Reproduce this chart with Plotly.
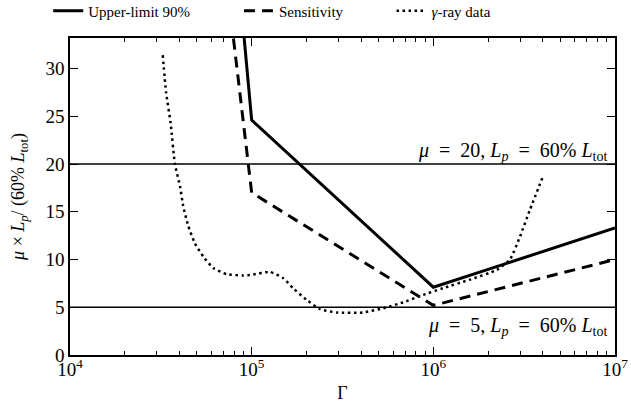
import plotly.graph_objects as go

# ---- data ----
upper_gamma = [8.9e4, 1.0e5, 1.0e6, 1.0e7]
upper_vals = [35.1, 24.6, 7.1, 13.3]

sens_gamma = [7.73e4, 1.0e5, 1.0e6, 1.0e7]
sens_vals = [35.0, 17.0, 5.2, 10.0]

gray_gamma = [3.24e4, 3.38e4, 3.58e4, 3.78e4, 4.03e4, 4.2e4, 4.48e4, 4.87e4,
              5.42e4, 6.15e4, 7.28e4, 9.0e4, 1.0e5, 1.26e5, 1.49e5, 1.69e5,
              2.0e5, 2.38e5, 2.94e5, 4.1e5, 5.3e5, 6.8e5, 8.8e5, 1.13e6,
              1.59e6, 2.23e6, 2.64e6, 3.0e6, 3.4e6, 4.05e6]
gray_vals = [31.4, 27.5, 24.3, 20.0, 17.7, 15.6, 13.5, 11.7,
             10.3, 9.1, 8.47, 8.32, 8.4, 8.7, 8.05, 7.0,
             5.8, 4.8, 4.45, 4.45, 4.9, 5.5, 6.3, 7.0,
             7.9, 8.9, 10.0, 12.4, 15.2, 18.9]

hlines = [20, 5]
gamma_range = [1e4, 1e7]
x_tickvals = [1e4, 1e5, 1e6, 1e7]
x_ticktext = ["10<sup>4</sup>", "10<sup>5</sup>", "10<sup>6</sup>", "10<sup>7</sup>"]
y_tickvals = [0, 5, 10, 15, 20, 25, 30]
minor_vals = [m * 10 ** e for e in (4, 5, 6) for m in range(2, 10)]

FONT = "'Liberation Serif', 'DejaVu Serif', serif"
SP = "\u2002"

fig = go.Figure()

for yv in hlines:
    fig.add_trace(go.Scatter(x=gamma_range, y=[yv, yv], mode="lines",
                             line=dict(color="black", width=1.5),
                             showlegend=False, hoverinfo="skip"))

fig.add_trace(go.Scatter(x=upper_gamma, y=upper_vals, mode="lines",
                         name="Upper-limit 90%", legend="legend",
                         line=dict(color="black", width=3)))
fig.add_trace(go.Scatter(x=sens_gamma, y=sens_vals, mode="lines",
                         name="Sensitivity", legend="legend2",
                         line=dict(color="black", width=3, dash="11px,7px")))
fig.add_trace(go.Scatter(x=gray_gamma, y=gray_vals, mode="lines",
                         name="<i>γ</i>-ray data", legend="legend3",
                         line=dict(color="black", width=2.5, dash="2.5px,3.5px",
                                   shape="spline", smoothing=0.5)))

leg_common = dict(orientation="h", yanchor="middle", y=1.085, xanchor="left",
                  bgcolor="rgba(0,0,0,0)", font=dict(family=FONT, size=15, color="black"),
                  itemwidth=30)
fig.update_layout(
    legend=dict(x=-0.04, **leg_common),
    legend2=dict(x=0.31, **leg_common),
    legend3=dict(x=0.59, **leg_common),
)

lab20 = f"<i>μ</i>{SP}={SP}20, <i>L</i><sub><i>p</i></sub>{SP}={SP}60% <i>L</i><sub>tot</sub>"
lab5 = f"<i>μ</i>{SP}={SP}5, <i>L</i><sub><i>p</i></sub>{SP}={SP}60% <i>L</i><sub>tot</sub>"
fig.add_annotation(x=1, xref="paper", y=hlines[0], yref="y", yanchor="bottom",
                   xanchor="right", showarrow=False, yshift=-2, xshift=-6,
                   text=lab20, font=dict(family=FONT, size=20, color="black"))
fig.add_annotation(x=1, xref="paper", y=hlines[1], yref="y", yanchor="top",
                   xanchor="right", showarrow=False, yshift=-5, xshift=-6,
                   text=lab5, font=dict(family=FONT, size=20, color="black"))

fig.update_xaxes(type="log", range=[4, 7], tickvals=x_tickvals, ticktext=x_ticktext,
                 ticks="inside", ticklen=8, tickwidth=1.2, tickcolor="black",
                 showline=True, linecolor="black", linewidth=1.5, mirror="allticks",
                 showgrid=False, zeroline=False, ticklabelstandoff=-4,
                 minor=dict(tickvals=minor_vals, ticks="inside", ticklen=4,
                            tickcolor="black", tickwidth=1, showgrid=False),
                 tickfont=dict(family=FONT, size=19, color="black"),
                 title=dict(text="Γ", font=dict(family=FONT, size=18, color="black"),
                            standoff=8))
fig.update_yaxes(range=[0, 33.2], tickvals=y_tickvals,
                 ticks="inside", ticklen=8, tickwidth=1.2, tickcolor="black",
                 showline=True, linecolor="black", linewidth=1.5, mirror="allticks",
                 showgrid=False, zeroline=False,
                 tickfont=dict(family=FONT, size=19, color="black"),
                 title=dict(text="<i>μ</i> × <i>L</i><sub><i>p</i></sub>/ (60% <i>L</i><sub>tot</sub>)",
                            font=dict(family=FONT, size=18, color="black"), standoff=16))

fig.update_layout(width=631, height=404, plot_bgcolor="white", paper_bgcolor="white",
                  margin=dict(l=70, r=16, t=38, b=49, autoexpand=False))

# remove the browser's default 8px body margin so the figure fills the window
fig.write_html("out.html", config={"displayModeBar": False},
               post_script="document.body.style.margin='0px';")
